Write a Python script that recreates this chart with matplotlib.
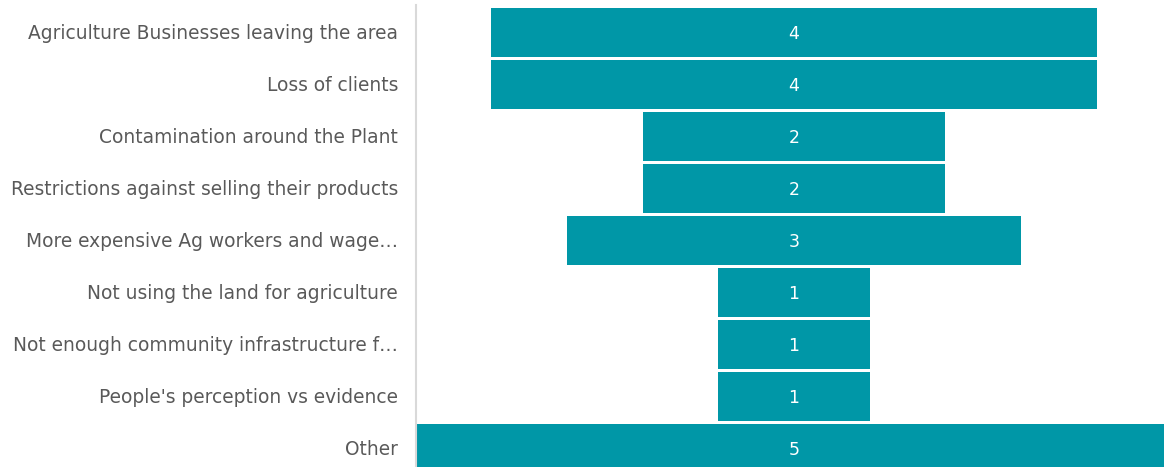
import matplotlib.pyplot as plt

# Funnel-style chart of counts per category
categories = ["Agriculture Businesses leaving the area",
              "Loss of clients",
              "Contamination around the Plant",
              "Restrictions against selling their products",
              "More expensive Ag workers and wage…",
              "Not using the land for agriculture",
              "Not enough community infrastructure f…",
              "People's perception vs evidence",
              "Other"]
counts = [4, 4, 2, 2, 3, 1, 1, 1, 5]

bar_color = '#0097a7'
text_color = '#595959'

fig = plt.figure(figsize=(11.64, 4.67), dpi=100)
ax = fig.add_axes([416 / 1164, 0, 1 - 416 / 1164, 1])

ypos = list(range(len(categories)))
lefts = [-c / 2 for c in counts]
ax.barh(ypos, counts, left=lefts, height=0.925, color=bar_color)

for y, c in zip(ypos, counts):
    ax.text(0, y + 0.03, str(c), ha='center', va='center', color='white', fontsize=12.5)

ax.set_xlim(-2.499, 2.446)
ax.set_ylim((467 - 32.5) / 52, -32.5 / 52)

ax.set_yticks([y - 0.01 for y in ypos])
ax.set_yticklabels(categories, fontsize=13.4, color=text_color)
ax.tick_params(axis='y', length=0, pad=13)
ax.set_xticks([])

for s in ['top', 'right', 'bottom']:
    ax.spines[s].set_visible(False)
ax.spines['left'].set_color('#d9d9d9')
ax.spines['left'].set_linewidth(1.5)
ax.spines['left'].set_bounds(-0.52, (467 - 32.5) / 52)

fig.savefig('out.png', dpi=100)
